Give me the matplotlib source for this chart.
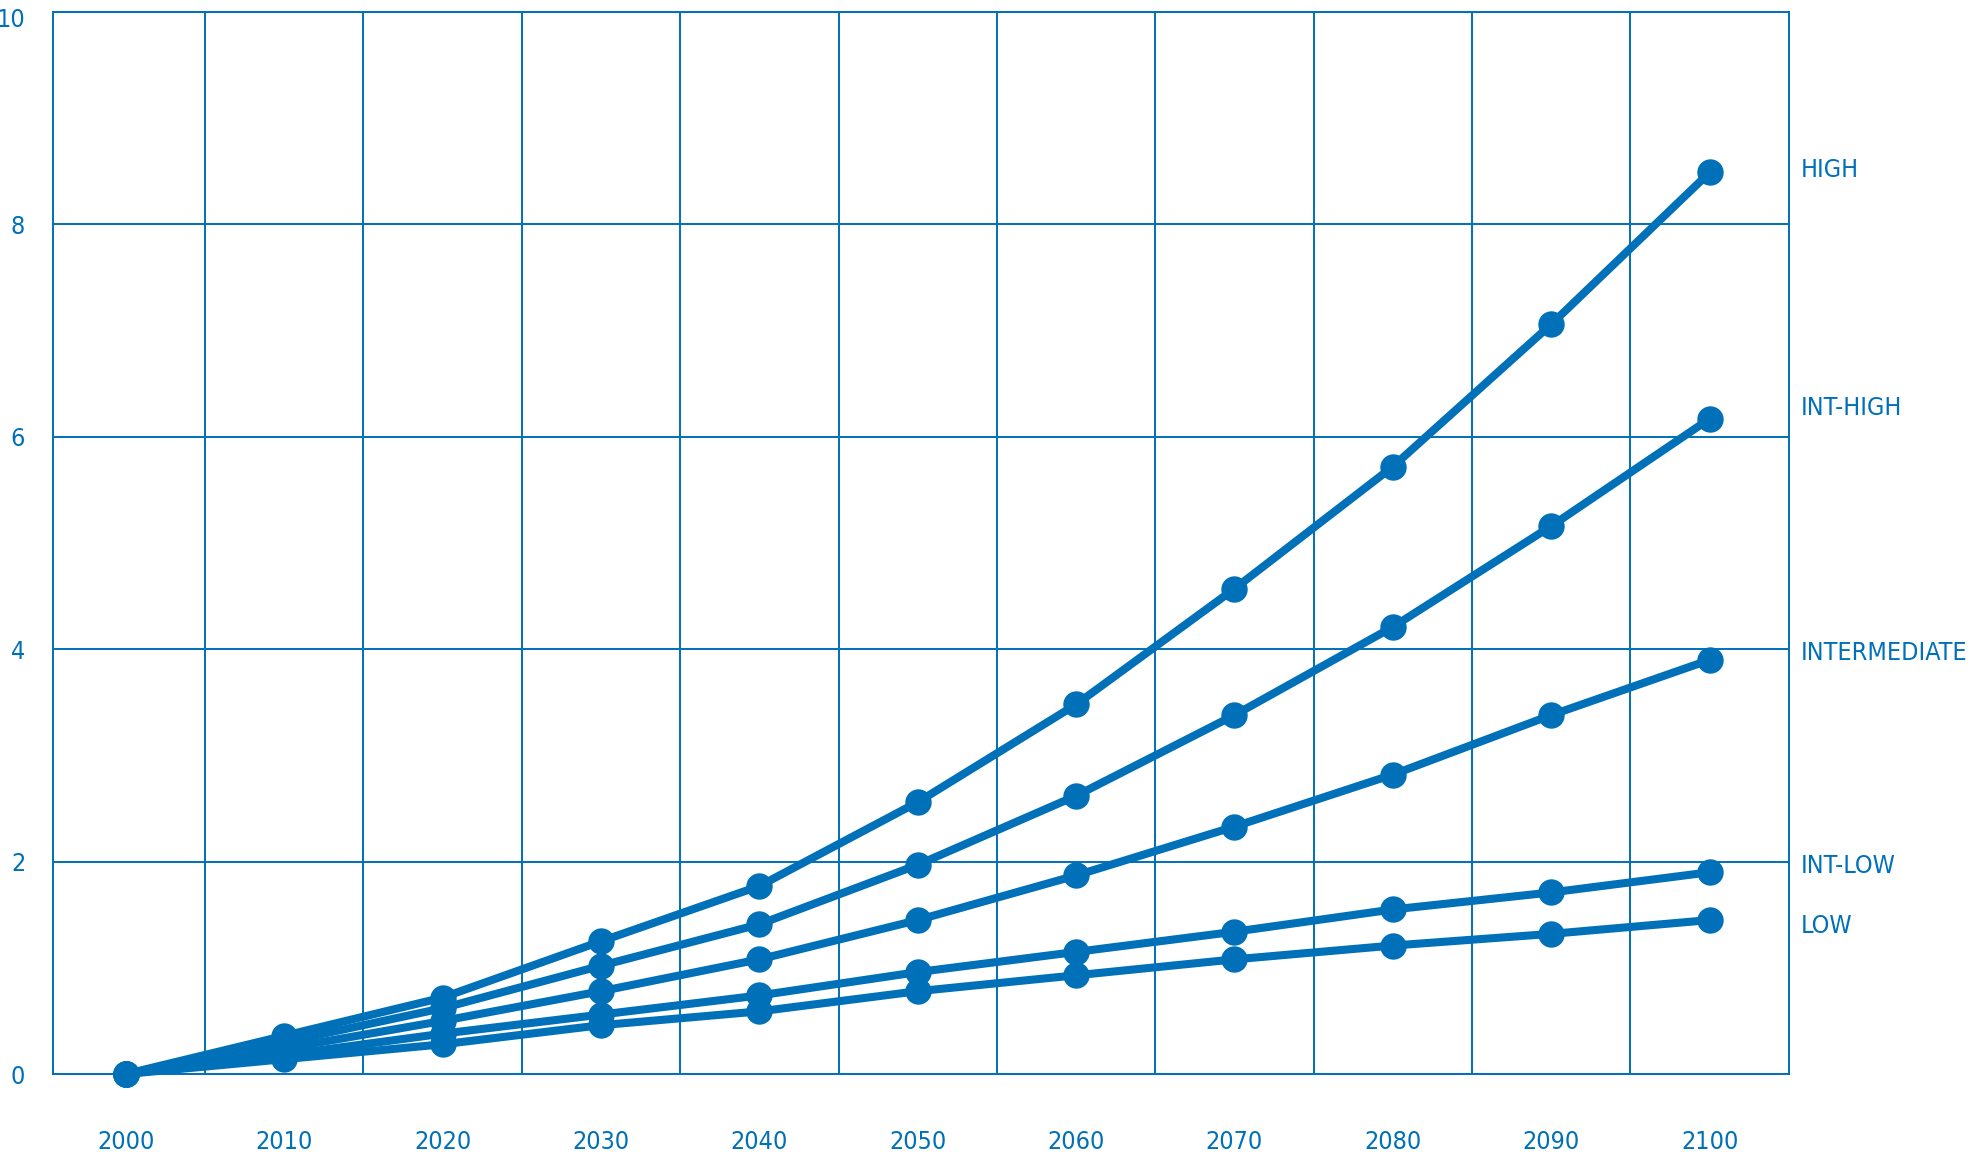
import matplotlib
matplotlib.use('Agg')
import matplotlib.pyplot as plt
from matplotlib import font_manager
from matplotlib.transforms import ScaledTranslation

years = [2000, 2010, 2020, 2030, 2040, 2050, 2060, 2070, 2080, 2090, 2100]
high = [0, 0.36, 0.72, 1.25, 1.77, 2.56, 3.48, 4.57, 5.72, 7.06, 8.49]
int_high = [0, 0.30, 0.62, 1.02, 1.41, 1.97, 2.62, 3.38, 4.21, 5.16, 6.17]
intermediate = [0, 0.24, 0.50, 0.78, 1.08, 1.45, 1.87, 2.33, 2.82, 3.38, 3.90]
int_low = [0, 0.18, 0.38, 0.56, 0.74, 0.96, 1.15, 1.34, 1.55, 1.71, 1.90]
low = [0, 0.14, 0.28, 0.46, 0.59, 0.78, 0.93, 1.08, 1.21, 1.32, 1.45]
names = ["HIGH", "INT-HIGH", "INTERMEDIATE", "INT-LOW", "LOW"]
label_shift = [0.02, 0.1, 0.06, 0.06, -0.06]

blue = '#0070b8'

# look for a narrow / condensed face, else plain DejaVu
fp = None
for f in font_manager.fontManager.ttflist:
    nm = f.name.lower()
    cond = 'narrow' in nm or 'condensed' in nm or f.stretch in ('condensed', 'semi-condensed', 'extra-condensed')
    if cond and f.style == 'normal' and f.weight in (400, 'normal', 'regular'):
        fp = font_manager.FontProperties(fname=f.fname)
        break
if fp is None:
    fp = font_manager.FontProperties(family='DejaVu Sans', stretch='condensed')
fp.set_size(18)

fig = plt.figure(figsize=(19.74, 11.6), dpi=100)
ax = fig.add_axes([0.0268, 0.0741, 0.8794, 0.9155])

series = [high, int_high, intermediate, int_low, low]
for vals in series[::-1]:
    ax.plot(years, vals, color=blue, lw=5.8, marker='o', markersize=18, clip_on=False, zorder=3)

ax.set_xlim(1995.4, 2105)
ax.set_ylim(0, 10)
ax.set_xticks(years)
ax.set_xticks(range(2005, 2100, 10), minor=True)
ax.set_yticks(range(0, 11, 2))
ax.grid(False)
ax.xaxis.grid(True, which='minor', color=blue, lw=1.4)
ax.yaxis.grid(True, which='major', color=blue, lw=1.4)
for s in ax.spines.values():
    s.set_color(blue)
    s.set_linewidth(1.4)
ax.tick_params(which='both', length=0, colors=blue)
ax.tick_params(axis='x', pad=40)
ax.tick_params(axis='y', pad=20)
for lab in ax.get_xticklabels() + ax.get_yticklabels():
    lab.set_fontproperties(fp)

# top label "10" sits a little lower so it is not cut
top = ax.yaxis.get_major_ticks()[-1].label1
top.set_transform(top.get_transform() + ScaledTranslation(0, -4 / 72, fig.dpi_scale_trans))

for name, vals, dy in zip(names, series, label_shift):
    ax.text(1.007, vals[-1] + dy, name, transform=ax.get_yaxis_transform(),
            color=blue, fontproperties=fp, ha='left', va='center')

plt.savefig('out.png', dpi=100)
